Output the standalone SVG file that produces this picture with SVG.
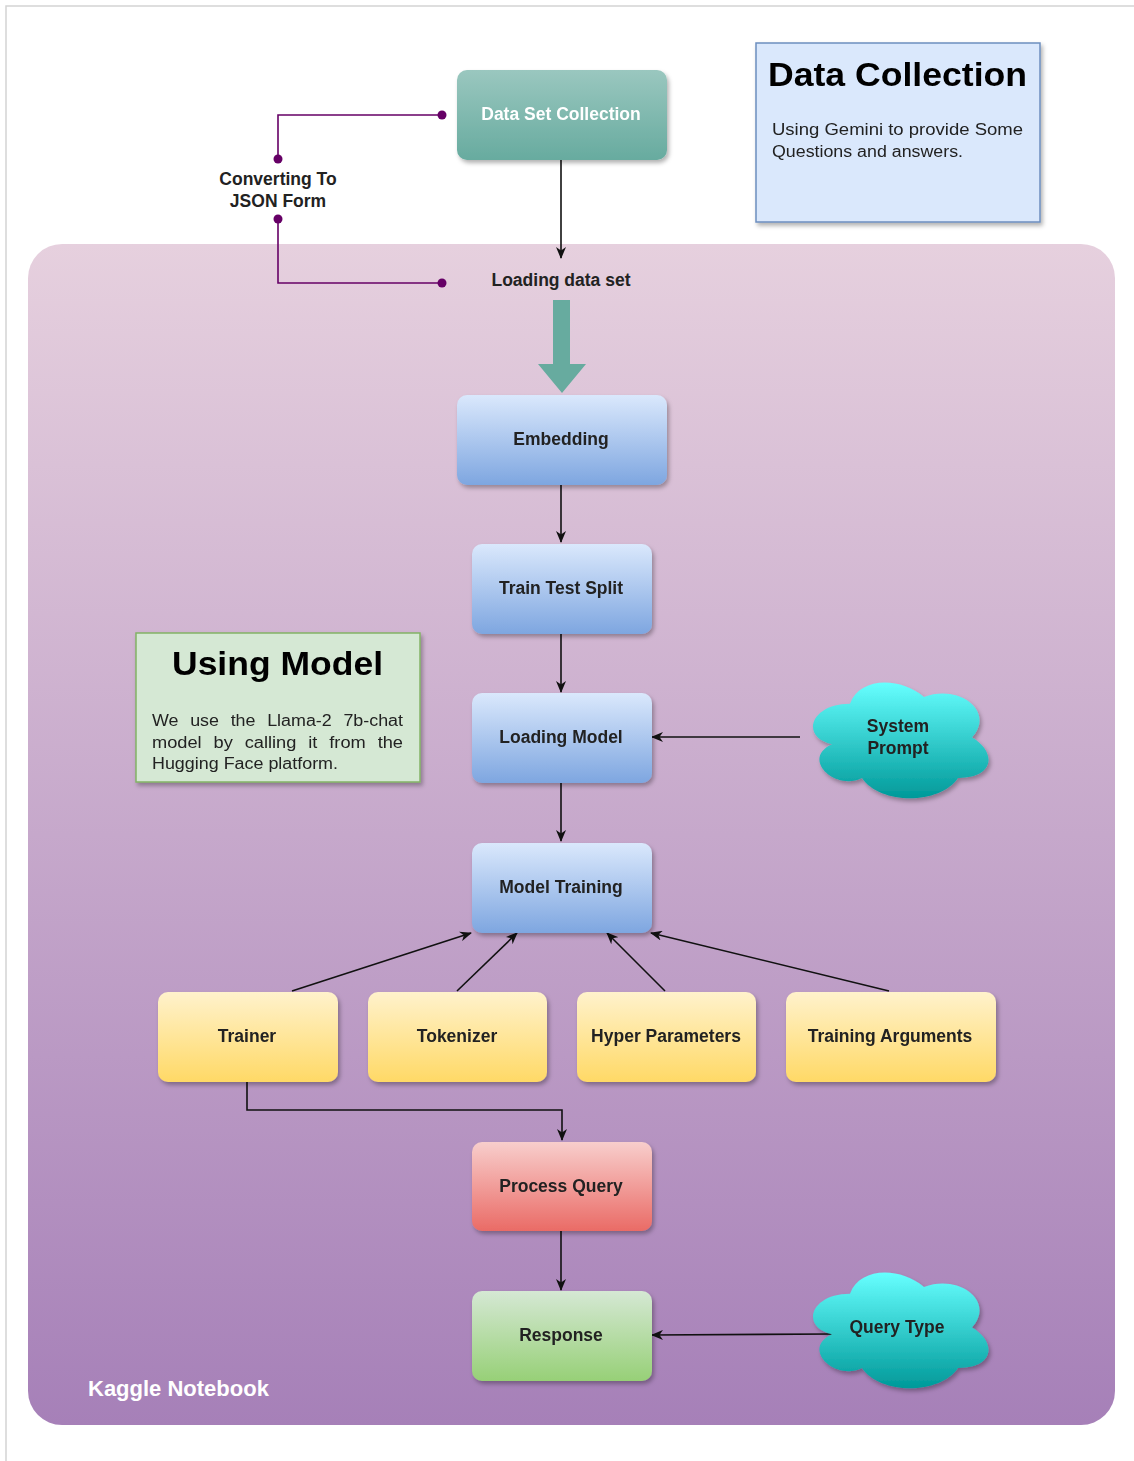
<svg xmlns="http://www.w3.org/2000/svg" xmlns:xlink="http://www.w3.org/1999/xlink" width="1134" height="1461" viewBox="0 0 1134 1461">
  <style>
    .lbl { font-family: "Liberation Sans", Arial, sans-serif; font-size: 17.5px; font-weight: bold; fill: #222; text-anchor: middle; }
    .lblw { font-family: "Liberation Sans", Arial, sans-serif; font-size: 17.5px; font-weight: bold; fill: #ffffff; text-anchor: middle; }
    .title { font-family: "Liberation Sans", Arial, sans-serif; font-size: 33px; font-weight: bold; fill: #000; }
    .body { font-family: "Liberation Sans", Arial, sans-serif; font-size: 16px; fill: #222; }
    .edge { fill: none; stroke: #111; stroke-width: 1.6; }
    .purple { fill: none; stroke: #660066; stroke-width: 1.6; }
    .dot { fill: #660066; }
    .node { filter: url(#shadow); }
  </style>
  <defs>
    <filter id="shadow" x="-10%" y="-10%" width="130%" height="140%">
      <feDropShadow dx="2" dy="3" stdDeviation="2" flood-color="#000" flood-opacity="0.3"/>
    </filter>
    <linearGradient id="gContainer" x1="0" y1="0" x2="0" y2="1">
      <stop offset="0" stop-color="#e6d0de"/>
      <stop offset="1" stop-color="#a680b8"/>
    </linearGradient>
    <linearGradient id="gTeal" x1="0" y1="0" x2="0" y2="1">
      <stop offset="0" stop-color="#9ac7bf"/>
      <stop offset="1" stop-color="#67ab9f"/>
    </linearGradient>
    <linearGradient id="gBlue" x1="0" y1="0" x2="0" y2="1">
      <stop offset="0" stop-color="#dae8fc"/>
      <stop offset="1" stop-color="#7ea6e0"/>
    </linearGradient>
    <linearGradient id="gYellow" x1="0" y1="0" x2="0" y2="1">
      <stop offset="0" stop-color="#fff2cc"/>
      <stop offset="1" stop-color="#ffd966"/>
    </linearGradient>
    <linearGradient id="gRed" x1="0" y1="0" x2="0" y2="1">
      <stop offset="0" stop-color="#f8cecc"/>
      <stop offset="1" stop-color="#ea6b66"/>
    </linearGradient>
    <linearGradient id="gGreen" x1="0" y1="0" x2="0" y2="1">
      <stop offset="0" stop-color="#d5e8d4"/>
      <stop offset="1" stop-color="#97d077"/>
    </linearGradient>
    <linearGradient id="gCloud" x1="0" y1="0" x2="0" y2="1">
      <stop offset="0" stop-color="#66ffff"/>
      <stop offset="1" stop-color="#009999"/>
    </linearGradient>
    <!-- cloud outline in a ~196 x 135 box -->
    <path id="cloud" d="M50,33.75 C10,33.75 0,67.5 32,74.25 C0,89.1 36,121.5 62,108 C80,135 140,135 158,108 C196,108 196,81 172,67.5 C196,40.5 158,13.5 124,27 C100,6.75 60,6.75 50,33.75 Z"/>
    <marker id="arrow" viewBox="0 0 12 10" refX="11" refY="5" markerWidth="12" markerHeight="10" markerUnits="userSpaceOnUse" orient="auto">
      <path d="M0,0 L12,5 L0,10 L3.5,5 Z" fill="#111"/>
    </marker>
  </defs>

  <!-- page background and frame -->
  <rect x="0" y="0" width="1134" height="1461" fill="#ffffff"/>
  <path d="M6,1461 V6 H1134" fill="none" stroke="#d4d4d4" stroke-width="1.5"/>

  <!-- notebook container -->
  <g id="kaggle-notebook">
    <rect x="28" y="244" width="1087" height="1181" rx="34" fill="url(#gContainer)"/>
    <text x="88" y="1396" font-family="'Liberation Sans', Arial, sans-serif" font-size="22" font-weight="bold" fill="#ffffff">Kaggle Notebook</text>
  </g>

  <!-- connectors -->
  <g id="connectors">
    <path class="edge" d="M561,159 V258" marker-end="url(#arrow)"/>
    <path class="edge" d="M561,484 V542" marker-end="url(#arrow)"/>
    <path class="edge" d="M561,633 V692" marker-end="url(#arrow)"/>
    <path class="edge" d="M561,782 V841" marker-end="url(#arrow)"/>
    <path class="edge" d="M800,737 H652" marker-end="url(#arrow)"/>
    <path class="edge" d="M292,991 L471,933" marker-end="url(#arrow)"/>
    <path class="edge" d="M457,991 L517,933" marker-end="url(#arrow)"/>
    <path class="edge" d="M665,991 L607,933" marker-end="url(#arrow)"/>
    <path class="edge" d="M889,991 L651,933" marker-end="url(#arrow)"/>
    <path class="edge" d="M247,1081 V1110 H562 V1140" marker-end="url(#arrow)"/>
    <path class="edge" d="M561,1230 V1290" marker-end="url(#arrow)"/>
    <path class="edge" d="M832,1334 L652,1335" marker-end="url(#arrow)"/>
    <!-- JSON conversion link -->
    <path class="purple" d="M442,115 H278 V159"/>
    <circle class="dot" cx="442" cy="115" r="4.5"/>
    <circle class="dot" cx="278" cy="159" r="4.5"/>
    <path class="purple" d="M278,219 V283 H442"/>
    <circle class="dot" cx="278" cy="219" r="4.5"/>
    <circle class="dot" cx="442" cy="283" r="4.5"/>
    <text class="lbl" x="278" y="185">Converting To</text>
    <text class="lbl" x="278" y="207">JSON Form</text>
    <!-- wide flow arrow -->
    <polygon points="553,300 570,300 570,364 586,364 562,393 538,364 553,364" fill="#67ab9f"/>
  </g>

  <!-- nodes -->
  <g id="data-set-collection" class="node">
    <rect x="457" y="70" width="210" height="90" rx="10" fill="url(#gTeal)"/>
    <text class="lblw" x="561" y="120">Data Set Collection</text>
  </g>

  <g id="data-collection-note" class="node">
    <rect x="756" y="43" width="284" height="179" fill="#dae8fc" stroke="#6c8ebf" stroke-width="1.5"/>
    <text class="title" x="768" y="86" textLength="259" lengthAdjust="spacingAndGlyphs">Data Collection</text>
    <text class="body" x="772" y="135" textLength="251" lengthAdjust="spacingAndGlyphs">Using Gemini to provide Some</text>
    <text class="body" x="772" y="157" textLength="191" lengthAdjust="spacingAndGlyphs">Questions and answers.</text>
  </g>

  <g id="loading-data-set">
    <text class="lbl" x="561" y="286">Loading data set</text>
  </g>

  <g id="embedding" class="node">
    <rect x="457" y="395" width="210" height="90" rx="10" fill="url(#gBlue)"/>
    <text class="lbl" x="561" y="445">Embedding</text>
  </g>

  <g id="train-test-split" class="node">
    <rect x="472" y="544" width="180" height="90" rx="10" fill="url(#gBlue)"/>
    <text class="lbl" x="561" y="594">Train Test Split</text>
  </g>

  <g id="loading-model" class="node">
    <rect x="472" y="693" width="180" height="90" rx="10" fill="url(#gBlue)"/>
    <text class="lbl" x="561" y="743">Loading Model</text>
  </g>

  <g id="model-training" class="node">
    <rect x="472" y="843" width="180" height="90" rx="10" fill="url(#gBlue)"/>
    <text class="lbl" x="561" y="893">Model Training</text>
  </g>

  <g id="using-model-note" class="node">
    <rect x="136" y="633" width="284" height="149" fill="#d5e8d4" stroke="#82b366" stroke-width="1.5"/>
    <text class="title" x="172" y="675" textLength="211" lengthAdjust="spacingAndGlyphs">Using Model</text>
    <text class="body" x="152" y="726" textLength="251" lengthAdjust="spacingAndGlyphs" word-spacing="6">We use the Llama-2 7b-chat</text>
    <text class="body" x="152" y="747.5" textLength="251" lengthAdjust="spacingAndGlyphs" word-spacing="6">model by calling it from the</text>
    <text class="body" x="152" y="769" textLength="186" lengthAdjust="spacingAndGlyphs">Hugging Face platform.</text>
  </g>

  <g id="system-prompt" class="node">
    <use xlink:href="#cloud" href="#cloud" transform="translate(800,670)" fill="url(#gCloud)"/>
    <text class="lbl" x="898" y="732">System</text>
    <text class="lbl" x="898" y="754">Prompt</text>
  </g>

  <g id="trainer" class="node">
    <rect x="158" y="992" width="180" height="90" rx="10" fill="url(#gYellow)"/>
    <text class="lbl" x="247" y="1042">Trainer</text>
  </g>

  <g id="tokenizer" class="node">
    <rect x="368" y="992" width="179" height="90" rx="10" fill="url(#gYellow)"/>
    <text class="lbl" x="457" y="1042">Tokenizer</text>
  </g>

  <g id="hyper-parameters" class="node">
    <rect x="577" y="992" width="179" height="90" rx="10" fill="url(#gYellow)"/>
    <text class="lbl" x="666" y="1042">Hyper Parameters</text>
  </g>

  <g id="training-arguments" class="node">
    <rect x="786" y="992" width="210" height="90" rx="10" fill="url(#gYellow)"/>
    <text class="lbl" x="890" y="1042">Training Arguments</text>
  </g>

  <g id="process-query" class="node">
    <rect x="472" y="1142" width="180" height="89" rx="10" fill="url(#gRed)"/>
    <text class="lbl" x="561" y="1192">Process Query</text>
  </g>

  <g id="response" class="node">
    <rect x="472" y="1291" width="180" height="90" rx="10" fill="url(#gGreen)"/>
    <text class="lbl" x="561" y="1341">Response</text>
  </g>

  <g id="query-type" class="node">
    <use xlink:href="#cloud" href="#cloud" transform="translate(800,1260)" fill="url(#gCloud)"/>
    <text class="lbl" x="897" y="1333">Query Type</text>
  </g>
</svg>
